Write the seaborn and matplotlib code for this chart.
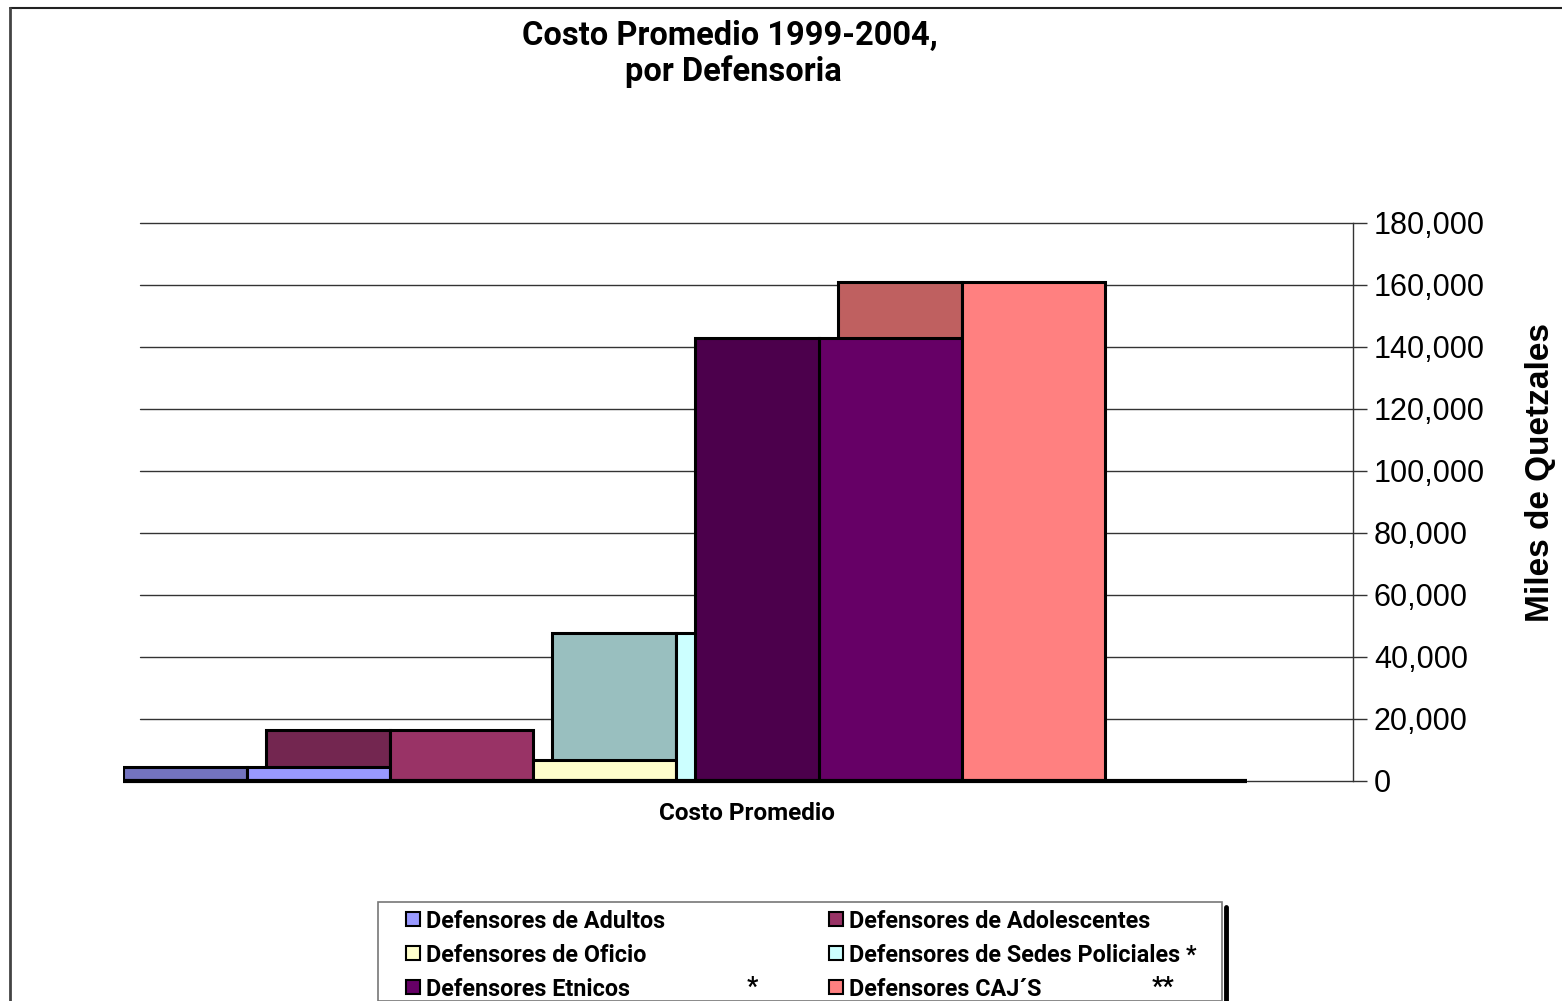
import numpy as np
import pandas as pd
import matplotlib
matplotlib.use("Agg")
import matplotlib.pyplot as plt
from matplotlib.patches import Rectangle
from matplotlib.lines import Line2D
import seaborn as sns

# ---- data ----
series = ["Defensores de Adultos", "Defensores de Adolescentes", "Defensores de Oficio",
          "Defensores de Sedes Policiales", "Defensores Etnicos", "Defensores CAJ´S"]
costo = [4500, 16500, 6800, 47700, 143000, 161000]
legend_suffix = ["", "", "", " *", "*", "**"]
front_colors = ["#9999FF", "#993366", "#FFFFCC", "#CCFFFF", "#660066", "#FF8080"]
side_colors = ["#7373BF", "#732650", "#BFBF99", "#99BFBF", "#4C004C", "#BF6060"]
yticks = [0, 20000, 40000, 60000, 80000, 100000, 120000, 140000, 160000, 180000]
category = "Costo Promedio"

W, H = 1562, 1001
sns.set_style("white")
plt.rcParams['font.family'] = ['Roboto', 'DejaVu Sans']
plt.rcParams['text.color'] = 'black'
plt.rcParams['ytick.color'] = 'black'
plt.rcParams['axes.labelcolor'] = 'black'
fig = plt.figure(figsize=(W / 100, H / 100), dpi=100)


def fx(px):
    return px / W


def fy(py):
    return 1 - py / H


# axes: left 123px, right 1353px, top 223px, bottom 781px
ax = fig.add_axes([fx(123), fy(781), fx(1353) - fx(123), fy(223) - fy(781)])

df = pd.DataFrame({"serie": series, "costo": costo})
sns.barplot(data=df, x="serie", y="costo", hue="serie", order=series, hue_order=series,
            palette=front_colors, width=1.0, edgecolor="black", linewidth=2.2,
            legend=False, ax=ax, zorder=3, saturation=1)

depth = 124 / 143
for i, v in enumerate(costo):
    z = 4 if i == 4 else 2
    ax.bar(i - 0.5 - depth, v, width=depth, align="edge", color=side_colors[i],
           edgecolor="black", linewidth=2.2, zorder=z)

x0 = 318.5
xl = (123 - x0) / 143
xr = (1353 - x0) / 143
ax.set_xlim(xl, xr)
ax.set_ylim(0, 180000)

# gridlines
grid_left = (140 - x0) / 143
for t in yticks[1:]:
    ax.plot([grid_left, xr], [t, t], color="#333333", lw=1.0, zorder=1, clip_on=False)
# floor line
ax.plot([xl, (1247 - x0) / 143], [0, 0], color="black", lw=3, zorder=5, clip_on=False,
        solid_capstyle="butt")
ax.plot([(1247 - x0) / 143, xr], [0, 0], color="#333333", lw=1.0, zorder=5, clip_on=False)

for s in ["top", "left", "bottom"]:
    ax.spines[s].set_visible(False)
ax.spines["right"].set_color("#333333")
ax.spines["right"].set_linewidth(1.0)
ax.yaxis.tick_right()
ax.set_yticks(yticks)
ax.set_yticklabels([f"{t:,}" for t in yticks], fontfamily="Liberation Sans", fontsize=22,
                   color="black")
ax.tick_params(axis="y", direction="out", length=10, width=1, color="#333333", pad=5)
ax.set_xticks([])
ax.set_xlabel("")
ax.set_ylabel("")

# titles / labels
fig.text(fx(730), fy(36), "Costo Promedio 1999-2004,", ha="center", va="center",
         fontsize=23.5, fontweight="bold")
fig.text(fx(733), fy(72), "por Defensoria", ha="center", va="center",
         fontsize=23.5, fontweight="bold")
fig.text(fx(747), fy(813), category, ha="center", va="center", fontsize=17.5, fontweight="bold")
fig.text(fx(1540), fy(472), "Miles de Quetzales", ha="center", va="center", rotation=90,
         fontsize=24, fontweight="bold", fontfamily="Liberation Sans")

# figure border (top and left)
fig.add_artist(Line2D([fx(10), 1], [fy(8), fy(8)], color="#222222", lw=1.5))
fig.add_artist(Line2D([fx(10), fx(10)], [fy(8), 0], color="#444444", lw=2.0))

# legend box (manual)
fig.add_artist(Rectangle((fx(378), 0), fx(1222) - fx(378), fy(902), facecolor="white",
                         edgecolor="#777777", lw=1.2))
fig.add_artist(Line2D([fx(1226), fx(1226)], [fy(907), 0], color="black", lw=3.5))
rows_y = [919, 953, 987]
cols_x = [406, 829]
stars_x = {4: 752, 5: 1163}
for i, name in enumerate(series):
    r, c = divmod(i, 2)
    y = rows_y[r]
    x = cols_x[c]
    fig.add_artist(Rectangle((fx(x), fy(y + 7)), 14 / W, 14 / H, facecolor=front_colors[i],
                             edgecolor="black", lw=1.5))
    label = name + (legend_suffix[i] if i == 3 else "")
    fig.text(fx(x + 20), fy(y + 2), label, ha="left", va="center", fontsize=16.8,
             fontweight="bold")
    if i in stars_x:
        fig.text(fx(stars_x[i]), fy(y + 1), legend_suffix[i], ha="center", va="center",
                 fontsize=18, fontweight="bold")

fig.savefig("out.png", dpi=100)
